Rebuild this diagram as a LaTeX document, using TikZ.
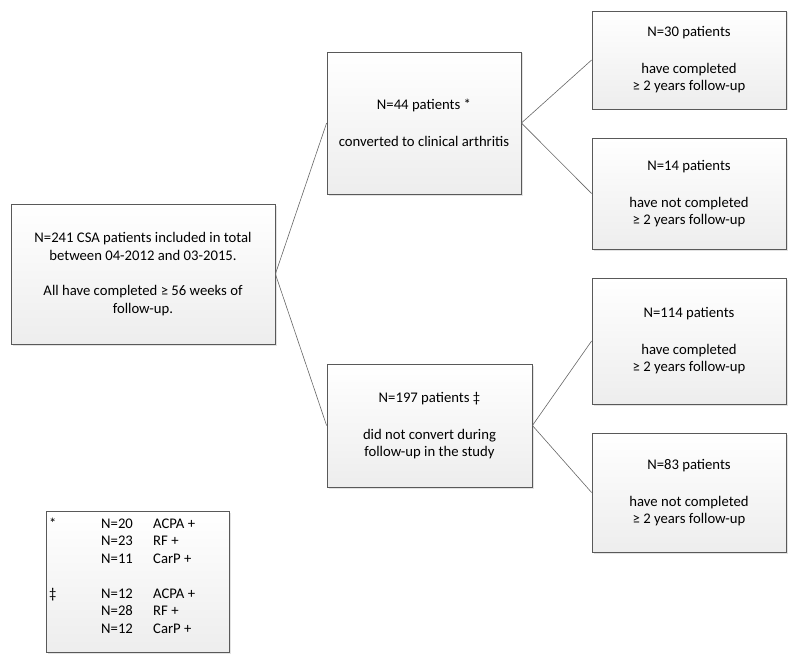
\documentclass[tikz,border=0pt]{standalone}
\usepackage{fontspec}
\setmainfont{Carlito}
\usetikzlibrary{shadows}
\begin{document}
\begin{tikzpicture}[x=1pt,y=-1pt,
  box/.style={draw=black!65, line width=0.8pt, top color=white, bottom color=black!7,
    drop shadow={opacity=0.22, shadow xshift=1.5pt, shadow yshift=-1.5pt},
    align=center, font=\fontsize{14.7}{17}\selectfont, inner sep=0pt},
  link/.style={draw=black!60, line width=0.6pt}]
\useasboundingbox (0,0) rectangle (800,666);
\node[box, font=\fontsize{14.7}{17.6}\selectfont, minimum width=264pt, minimum height=140pt] (main) at (143,274)
  {N=241 CSA patients included in total\\between 04-2012 and 03-2015.\\[17.6pt]All have completed ≥ 56 weeks of\\follow-up.};
\node[box, minimum width=194pt, minimum height=142pt] (n44) at (424,123)
  {N=44 patients *\\[20pt]converted to clinical arthritis};
\node[box, minimum width=205pt, minimum height=123pt] (n197) at (429.5,425.5)
  {N=197 patients ‡\\[20pt]did not convert during\\follow-up in the study};
\node[box, minimum width=194pt, minimum height=98pt] (n30) at (689,60)
  {N=30 patients\\[20pt]have completed\\≥ 2 years follow-up};
\node[box, minimum width=194pt, minimum height=111pt] (n14) at (689,193.5)
  {N=14 patients\\[20pt]have not completed\\≥ 2 years follow-up};
\node[box, minimum width=194pt, minimum height=126pt] (n114) at (689,341)
  {N=114 patients\\[20pt]have completed\\≥ 2 years follow-up};
\node[box, minimum width=194pt, minimum height=119pt] (n83) at (689,492.5)
  {N=83 patients\\[20pt]have not completed\\≥ 2 years follow-up};
\node[box, minimum width=183pt, minimum height=141pt] (legend) at (137.5,581.5) {};
\node[anchor=north west, inner sep=0pt, font=\fontsize{14.7}{17.5}\selectfont, align=left] (legtext) at (49,516)
  {\begin{tabular}{@{}p{52pt}@{}p{52pt}@{}l@{}}
   * & N=20 & ACPA +\\
     & N=23 & RF +\\
     & N=11 & CarP +\\
     & & \\
   ‡ & N=12 & ACPA +\\
     & N=28 & RF +\\
     & N=12 & CarP +
   \end{tabular}};
\draw[link] (main.east) -- (n44.west);
\draw[link] (main.east) -- (n197.west);
\draw[link] (n44.east) -- (n30.west);
\draw[link] (n44.east) -- (n14.west);
\draw[link] (n197.east) -- (n114.west);
\draw[link] (n197.east) -- (n83.west);
\end{tikzpicture}
\end{document}
